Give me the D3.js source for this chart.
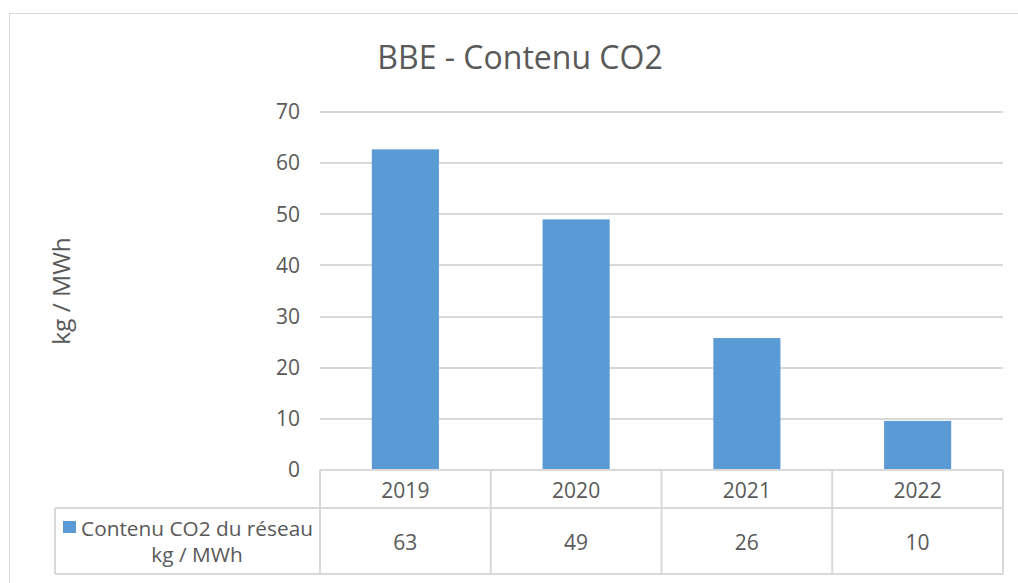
<!DOCTYPE html>
<html>
<head>
<meta charset="utf-8">
<script src="https://cdn.jsdelivr.net/npm/d3@7"></script>
<style>
  body { margin: 0; background: #fff; }
  text { font-family: "Open Sans", "Noto Sans", sans-serif; fill: #595959; }
</style>
</head>
<body>
<div id="canvas"></div>
<script>
const years = ["2019", "2020", "2021", "2022"];
const co2 = [62.7, 49.0, 25.8, 9.6];
const tableLabels = ["63", "49", "26", "10"];
const yTicks = [0, 10, 20, 30, 40, 50, 60, 70];
const seriesName = ["Contenu CO2 du réseau", "kg / MWh"];

const W = 1018, H = 583;
const plot = { left: 320, right: 1003, top: 112, bottom: 470 };
const table = { left: 55, row1: 508, bottom: 574 };

const svg = d3.select("#canvas").append("svg")
  .attr("width", W)
  .attr("height", H);

// chart frame
svg.append("rect")
  .attr("x", 9.5).attr("y", 13.5)
  .attr("width", 1020).attr("height", 600)
  .attr("fill", "none")
  .attr("stroke", "#d9d9d9");

const x = d3.scaleBand()
  .domain(years)
  .range([plot.left, plot.right])
  .paddingInner(0.607)
  .paddingOuter(0.3035);

const xCol = d3.scaleBand()
  .domain(years)
  .range([plot.left, plot.right]);

const y = d3.scaleLinear()
  .domain([0, 70])
  .range([plot.bottom, plot.top]);

// gridlines
svg.append("g")
  .selectAll("line")
  .data(yTicks.filter(d => d > 0))
  .enter()
  .append("line")
  .attr("x1", plot.left).attr("x2", plot.right)
  .attr("y1", d => Math.round(y(d)))
  .attr("y2", d => Math.round(y(d)))
  .attr("stroke", "#d9d9d9")
  .attr("stroke-width", 2);

// y axis labels
const yAxis = svg.append("g")
  .attr("transform", `translate(${plot.left - 20},0)`)
  .call(d3.axisLeft(y).tickValues(yTicks).tickSize(0).tickPadding(0));
yAxis.select(".domain").remove();
yAxis.selectAll("text")
  .style("font-size", "21px")
  .style("font-family", "'Open Sans', sans-serif")
  .attr("fill", "#595959");

// bars
svg.append("g")
  .selectAll("rect")
  .data(co2)
  .enter()
  .append("rect")
  .attr("x", (d, i) => x(years[i]))
  .attr("width", x.bandwidth())
  .attr("y", d => y(d))
  .attr("height", d => y(0) - y(d))
  .attr("fill", "#5b9bd5");

// data table
const tbl = svg.append("g")
  .attr("stroke", "#d9d9d9")
  .attr("stroke-width", 2)
  .attr("fill", "none");

tbl.append("line")
  .attr("x1", plot.left).attr("x2", plot.right)
  .attr("y1", plot.bottom).attr("y2", plot.bottom);
tbl.append("line")
  .attr("x1", table.left).attr("x2", plot.right)
  .attr("y1", table.row1).attr("y2", table.row1);
tbl.append("line")
  .attr("x1", table.left).attr("x2", plot.right)
  .attr("y1", table.bottom).attr("y2", table.bottom);
tbl.append("line")
  .attr("x1", table.left).attr("x2", table.left)
  .attr("y1", table.row1).attr("y2", table.bottom);
tbl.selectAll(".col")
  .data(years.concat(["end"]))
  .enter()
  .append("line")
  .attr("x1", (d, i) => i < years.length ? xCol(d) : plot.right)
  .attr("x2", (d, i) => i < years.length ? xCol(d) : plot.right)
  .attr("y1", plot.bottom)
  .attr("y2", table.bottom);

svg.append("g")
  .selectAll("text")
  .data(years)
  .enter()
  .append("text")
  .attr("x", d => xCol(d) + xCol.bandwidth() / 2)
  .attr("y", 498)
  .attr("text-anchor", "middle")
  .style("font-size", "21px")
  .text(d => d);

svg.append("g")
  .selectAll("text")
  .data(tableLabels)
  .enter()
  .append("text")
  .attr("x", (d, i) => xCol(years[i]) + xCol.bandwidth() / 2)
  .attr("y", 550)
  .attr("text-anchor", "middle")
  .style("font-size", "21px")
  .text(d => d);

// legend key + series name
svg.append("rect")
  .attr("x", 63).attr("y", 521)
  .attr("width", 13).attr("height", 12)
  .attr("fill", "#5b9bd5");

svg.append("text")
  .attr("text-anchor", "middle")
  .style("font-size", "20.8px")
  .selectAll("tspan")
  .data(seriesName)
  .enter()
  .append("tspan")
  .attr("x", 197)
  .attr("y", (d, i) => i === 0 ? 536 : 562)
  .text(d => d);

// title
svg.append("text")
  .attr("x", 520).attr("y", 69)
  .attr("text-anchor", "middle")
  .style("font-size", "32px")
  .text("BBE - Contenu CO2");

// y axis title
svg.append("text")
  .attr("transform", "translate(70,291) rotate(-90)")
  .attr("text-anchor", "middle")
  .style("font-size", "24.5px")
  .text("kg / MWh");
</script>
</body>
</html>
